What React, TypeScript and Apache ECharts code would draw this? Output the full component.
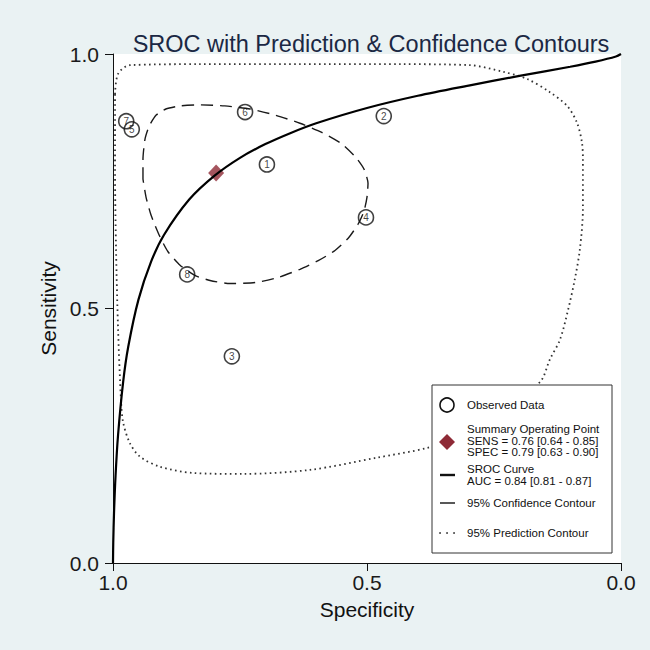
import React, { useEffect, useRef } from "react";
import * as echarts from "echarts";

// ---- Data ----
const studyIds = ["1", "2", "3", "4", "5", "6", "7", "8"];
const studySpec = [0.697, 0.467, 0.766, 0.502, 0.963, 0.74, 0.974, 0.854];
const studySens = [0.783, 0.878, 0.406, 0.679, 0.852, 0.886, 0.868, 0.567];

const summarySpec = 0.797;
const summarySens = 0.766;

// SROC curve (specificity, sensitivity)
const srocSpec = [1.0, 0.9995, 0.998, 0.995, 0.99, 0.98, 0.97, 0.95, 0.925, 0.9, 0.85, 0.8, 0.75, 0.7, 0.65, 0.6, 0.5, 0.4, 0.3, 0.2, 0.1, 0.05, 0.01, 0.0];
const srocSens = [0.0, 0.04, 0.098, 0.171, 0.252, 0.356, 0.425, 0.517, 0.592, 0.644, 0.714, 0.761, 0.796, 0.823, 0.845, 0.864, 0.894, 0.918, 0.938, 0.957, 0.975, 0.985, 0.995, 1.0];

// 95% confidence contour
const confSpec = [0.941, 0.941, 0.937, 0.929, 0.915, 0.896, 0.868, 0.829, 0.78, 0.73, 0.681, 0.632, 0.589, 0.549, 0.522, 0.506, 0.498, 0.5, 0.506, 0.518, 0.537, 0.563, 0.596, 0.632, 0.675, 0.72, 0.77, 0.809, 0.839, 0.868, 0.892, 0.909, 0.925, 0.935, 0.941];
const confSens = [0.754, 0.793, 0.833, 0.858, 0.88, 0.892, 0.898, 0.9, 0.898, 0.892, 0.88, 0.864, 0.846, 0.823, 0.797, 0.774, 0.746, 0.719, 0.691, 0.665, 0.638, 0.614, 0.594, 0.577, 0.561, 0.551, 0.549, 0.555, 0.565, 0.585, 0.612, 0.644, 0.683, 0.719, 0.754];

// 95% prediction contour
const predSpec = [0.996, 0.99, 0.967, 0.829, 0.632, 0.435, 0.297, 0.232, 0.185, 0.14, 0.106, 0.087, 0.077, 0.075, 0.075, 0.081, 0.091, 0.104, 0.12, 0.14, 0.159, 0.238, 0.317, 0.382, 0.48, 0.612, 0.744, 0.843, 0.907, 0.947, 0.967, 0.98, 0.984, 0.99, 0.994, 0.996, 0.996];
const predSens = [0.921, 0.961, 0.978, 0.98, 0.98, 0.98, 0.978, 0.965, 0.951, 0.925, 0.898, 0.866, 0.827, 0.793, 0.695, 0.616, 0.557, 0.498, 0.439, 0.4, 0.356, 0.291, 0.248, 0.226, 0.207, 0.183, 0.175, 0.177, 0.189, 0.209, 0.236, 0.276, 0.315, 0.459, 0.616, 0.774, 0.921];

const legendLabels = [
  ["Observed Data"],
  ["Summary Operating Point", "SENS = 0.76 [0.64 - 0.85]", "SPEC = 0.79 [0.63 - 0.90]"],
  ["SROC Curve", "AUC = 0.84 [0.81 - 0.87]"],
  ["95% Confidence Contour"],
  ["95% Prediction Contour"],
];

const FONT = "Arial, 'Liberation Sans', Helvetica, sans-serif";

export default function App() {
  const ref = useRef<HTMLDivElement>(null);

  useEffect(() => {
    if (!ref.current) return;
    const chart = echarts.init(ref.current, undefined, { renderer: "svg" });

    const zip = (a: number[], b: number[]) => a.map((v, i) => [v, b[i]]);

    // legend graphics
    const lx = 432, ly = 385, lw = 180, lh = 168;
    const tx = 467;
    const fs = 11.5;
    const g: any[] = [];
    g.push({ type: "rect", shape: { x: lx, y: ly, width: lw, height: lh }, style: { fill: "#fff", stroke: "#333", lineWidth: 1 }, z: 100 });
    g.push({ type: "circle", shape: { cx: 447, cy: 405, r: 7 }, style: { fill: "#fff", stroke: "#111", lineWidth: 1.6 }, z: 101 });
    g.push({ type: "polygon", shape: { points: [[447, 434], [455, 442], [447, 450], [439, 442]] }, style: { fill: "#8e2a36" }, z: 101 });
    g.push({ type: "line", shape: { x1: 440, y1: 475, x2: 455, y2: 475 }, style: { stroke: "#111", lineWidth: 2.4 }, z: 101 });
    g.push({ type: "line", shape: { x1: 440, y1: 503, x2: 455, y2: 503 }, style: { stroke: "#111", lineWidth: 1.4 }, z: 101 });
    [440, 447, 454].forEach((x) => g.push({ type: "circle", shape: { cx: x, cy: 533, r: 0.9 }, style: { fill: "#333" }, z: 101 }));
    const rows: number[][] = [[405], [429, 441, 452], [469, 481], [503], [533]];
    legendLabels.forEach((lines, i) => {
      lines.forEach((t, j) => {
        g.push({ type: "text", x: tx, y: rows[i][j], style: { text: t, fill: "#111", font: `${fs}px ${FONT}`, verticalAlign: "middle" }, z: 101 });
      });
    });

    const axisCommon = {
      type: "value",
      min: 0,
      max: 1,
      interval: 0.5,
      splitLine: { show: false },
      axisLine: { show: true, onZero: false, lineStyle: { color: "#111", width: 1 } },
      axisTick: { show: true, inside: false, length: 8, lineStyle: { color: "#111", width: 1 } },
      axisLabel: { fontSize: 21, color: "#1a1a1a", fontFamily: FONT, formatter: (v: number) => v.toFixed(1) },
      nameLocation: "middle",
      nameTextStyle: { fontSize: 21, color: "#111", fontFamily: FONT },
    };

    chart.setOption({
      animation: false,
      backgroundColor: "#eaf2f3",
      title: {
        text: "SROC with Prediction & Confidence Contours",
        left: 366,
        top: 27,
        textAlign: "center",
        textStyle: { fontSize: 23.5, fontWeight: "normal", color: "#1b2844", fontFamily: FONT },
      },
      grid: { left: 113, right: 29, top: 54, bottom: 87, show: true, backgroundColor: "#ffffff", borderWidth: 0 },
      xAxis: { ...axisCommon, inverse: true, name: "Specificity", nameGap: 36, axisLabel: { ...axisCommon.axisLabel, margin: 9 } },
      yAxis: { ...axisCommon, name: "Sensitivity", nameGap: 47, axisLabel: { ...axisCommon.axisLabel, margin: 14 } },
      series: [
        {
          type: "line",
          data: zip(predSpec, predSens),
          showSymbol: false,
          smooth: 0.3,
          lineStyle: { color: "#333", width: 1.8, type: [1.6, 3.4] },
          z: 2,
        },
        {
          type: "line",
          data: zip(confSpec, confSens),
          showSymbol: false,
          smooth: 0.2,
          lineStyle: { color: "#1a1a1a", width: 1.4, type: [12, 7] },
          z: 3,
        },
        {
          type: "scatter",
          data: studySpec.map((s, i) => ({ value: [s, studySens[i]], name: studyIds[i] })),
          symbol: "circle",
          symbolSize: 15,
          itemStyle: { color: "rgba(255,255,255,0)", borderColor: "#111", borderWidth: 1.6 },
          label: { show: true, position: "inside", formatter: (p: any) => p.name, fontSize: 10, color: "#111", fontFamily: FONT },
          z: 4,
        },
        {
          type: "scatter",
          data: [[summarySpec, summarySens]],
          symbol: "diamond",
          symbolSize: [16, 17],
          itemStyle: { color: "#8e2a36" },
          z: 5,
        },
        {
          type: "line",
          data: zip(srocSpec, srocSens),
          showSymbol: false,
          smooth: 0.3,
          lineStyle: { color: "#000", width: 2.2 },
          z: 6,
        },
      ],
      graphic: g,
    });

    return () => chart.dispose();
  }, []);

  return <div ref={ref} style={{ position: "absolute", left: 0, top: 0, width: 650, height: 650 }} />;
}
